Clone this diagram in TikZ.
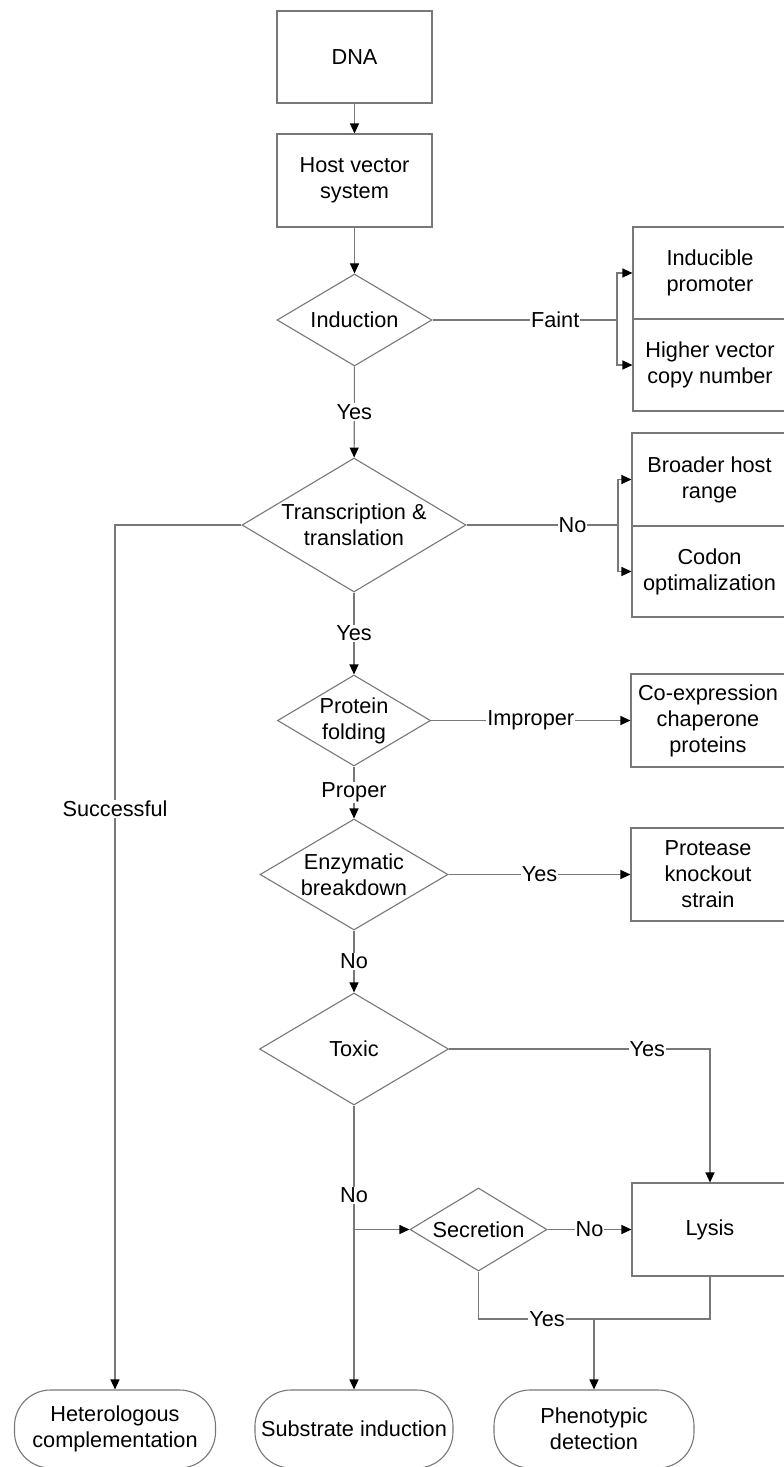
\documentclass[tikz,border=0pt]{standalone}
\usepackage{fontspec}
\setmainfont{Liberation Sans}
\usetikzlibrary{shapes.geometric,arrows.meta}
\definecolor{linegray}{RGB}{120,120,120}
\begin{document}
\begin{tikzpicture}[x=1pt,y=-1pt,
  base/.style={font=\fontsize{21.7}{26}\selectfont, align=center, text=black},
  procbox/.style={base, draw=linegray, line width=1.1pt, rectangle, inner sep=0pt, minimum width=155pt, minimum height=92pt},
  decision/.style={base, draw=linegray, line width=1.1pt, diamond, aspect=1.67, inner sep=0pt},
  term/.style={base, draw=linegray, line width=1.1pt, rectangle, rounded corners=36pt, minimum width=200pt, minimum height=78pt, inner sep=0pt},
  conn/.style={draw=linegray, line width=1.1pt},
  arr/.style={conn, -{Triangle[length=10pt,width=9pt,color=black]}},
  lbl/.style={base, fill=white, inner sep=1pt}
]
\fill[white] (0,0) rectangle (784,1467);
\useasboundingbox (0,0) rectangle (784,1467);
\clip (0,0) rectangle (784,1467);

% nodes
\node[procbox] (dna) at (354.5,57) {DNA};
\node[procbox, minimum height=93pt] (hvs) at (354.5,180.5) {Host vector\\system};
\node[decision, minimum width=155pt, minimum height=92pt] (ind) at (354.5,320) {Induction};
\node[procbox, minimum width=154pt] (ipr) at (710,273) {Inducible\\promoter};
\node[procbox, minimum width=154pt] (hvc) at (710,365) {Higher vector\\copy number};
\node[decision, minimum width=224pt, minimum height=134pt] (tt) at (354,525) {Transcription \&\\translation};
\node[procbox, minimum height=93pt] (bhr) at (709.5,479.5) {Broader host\\range};
\node[procbox, minimum height=91pt] (cod) at (709.5,571.5) {Codon\\optimalization};
\node[decision, minimum width=153pt, minimum height=91pt] (pf) at (354,720.5) {Protein\\folding};
\node[procbox, minimum width=154pt, minimum height=93pt] (cop) at (708,720.5) {Co-expression\\chaperone\\proteins};
\node[decision, minimum width=188pt, minimum height=111pt] (enz) at (354,874.5) {Enzymatic\\breakdown};
\node[procbox, minimum width=154pt, minimum height=93pt] (pks) at (708,874.5) {Protease\\knockout\\strain};
\node[decision, minimum width=189pt, minimum height=112pt] (tox) at (354,1049) {Toxic};
\node[decision, minimum width=137pt, minimum height=83pt] (sec) at (478.5,1229.5) {Secretion};
\node[procbox, minimum width=156pt, minimum height=93pt] (lys) at (710,1229.5) {Lysis};
\node[term, minimum width=201pt] (het) at (115,1429) {Heterologous\\complementation};
\node[term, minimum width=198pt] (sub) at (354,1429) {Substrate induction};
\node[term] (phe) at (594,1429) {Phenotypic\\detection};

\coordinate (fb) at (617,320);
\coordinate (nb) at (618,525);
\coordinate (j) at (594,1319);

% connectors
\draw[arr] (dna) -- (hvs);
\draw[arr] (hvs) -- (ind);
\draw[arr] (ind) -- node[lbl]{Yes} (tt);
\draw[conn] (ind.east) -- node[lbl,pos=0.665]{Faint} (fb);
\draw[arr] (fb) |- (ipr.west);
\draw[arr] (fb) |- (hvc.west);
\draw[conn] (tt.east) -- node[lbl,pos=0.70]{No} (nb);
\draw[arr] (nb) |- (bhr.west);
\draw[arr] (nb) |- (cod.west);
\draw[arr] (tt.west) -| node[lbl,pos=0.664]{Successful} (het.north);
\draw[arr] (tt) -- node[lbl]{Yes} (pf);
\draw[arr] (pf.east) -- node[lbl]{Improper} (cop.west);
\draw[arr] (pf) -- node[lbl]{Proper} (enz);
\draw[arr] (enz.east) -- node[lbl]{Yes} (pks.west);
\draw[arr] (enz) -- node[lbl]{No} (tox);
\draw[arr] (tox.east) -| node[lbl,pos=0.38]{Yes} (lys.north);
\draw[arr] (tox.south) -- node[lbl,pos=0.316]{No} (sub.north);
\draw[arr] (tox.south |- sec.west) -- (sec.west);
\draw[arr] (sec.east) -- node[lbl]{No} (lys.west);
\draw[conn] (sec.south) |- node[lbl,pos=0.797]{Yes} (j);
\draw[conn] (lys.south) |- (j);
\draw[arr] (j) -- (phe.north);
\end{tikzpicture}
\end{document}
